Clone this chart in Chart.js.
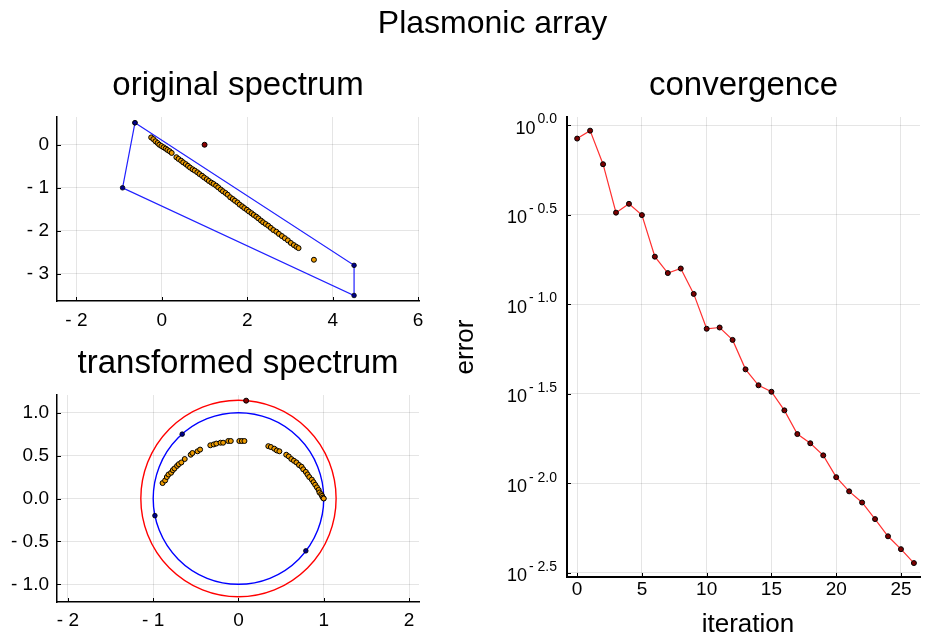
<!DOCTYPE html>
<html><head><meta charset="utf-8">
<script src="https://cdn.jsdelivr.net/npm/chart.js@4"></script>
<style>
html,body{margin:0;padding:0;background:#fff;}
#wrap{position:relative;width:925px;height:636px;overflow:hidden;background:#fff}
#wrap canvas{position:absolute;left:0;top:0}
</style></head><body>
<div id="wrap">
<canvas id="c1" width="925" height="636"></canvas>
<canvas id="c2" width="925" height="636"></canvas>
<canvas id="c3" width="925" height="636"></canvas>
</div>
<script>
// ---------- data ----------
const mainTitle = 'Plasmonic array';
const titles = ['original spectrum', 'transformed spectrum', 'convergence'];

// original spectrum: eigenvalues
const origX = [-0.25,-0.20,-0.15,-0.10,-0.06,-0.01,0.04,0.09,0.13,0.18,0.23,
  0.34,0.39,0.45,0.50,0.56,0.61,0.66,0.72,0.77,0.83,0.88,0.94,0.99,1.05,1.10,1.16,1.21,1.27,1.32,1.38,1.43,1.49,1.54,
  1.60,1.66,1.71,1.77,1.82,1.88,1.93,1.99,2.04,2.10,2.15,2.21,2.26,2.32,2.37,2.43,2.49,2.55,2.61,2.68,2.74,2.81,2.88,2.95,3.02,3.09,3.15,3.20,
  3.56];
const origY = [0.17,0.13,0.08,0.04,0.00,-0.03,-0.06,-0.09,-0.12,-0.15,-0.19,
  -0.29,-0.33,-0.37,-0.41,-0.45,-0.49,-0.53,-0.57,-0.60,-0.64,-0.68,-0.72,-0.76,-0.80,-0.84,-0.88,-0.91,-0.95,-0.99,-1.04,-1.08,-1.12,-1.16,
  -1.22,-1.26,-1.30,-1.34,-1.39,-1.43,-1.47,-1.51,-1.55,-1.59,-1.63,-1.67,-1.71,-1.76,-1.80,-1.84,-1.88,-1.93,-1.98,-2.02,-2.07,-2.12,-2.17,-2.22,-2.28,-2.33,-2.37,-2.40,
  -2.67];
const origTargetX = [1.0];
const origTargetY = [0.0];
const hullX = [-0.63, -0.92, 4.50, 4.50, -0.63];
const hullY = [0.51, -1.00, -3.50, -2.80, 0.51];
const origXTicks = [-2, 0, 2, 4, 6];
const origXLabels = ['- 2', '0', '2', '4', '6'];
const origYTicks = [0, -1, -2, -3];
const origYLabels = ['0', '- 1', '- 2', '- 3'];

// transformed spectrum
const transX = [-0.89,-0.86,-0.84,-0.82,-0.79,-0.77,-0.75,-0.72,-0.70,-0.67,-0.63,-0.56,-0.54,-0.48,-0.45,-0.33,-0.29,-0.26,-0.21,-0.18,-0.12,-0.09,0.01,0.04,0.07,
  0.35,0.38,0.42,0.45,0.48,0.56,0.59,0.62,0.65,0.68,0.71,0.74,0.76,0.79,0.81,0.83,0.86,0.88,0.90,0.92,0.94,0.95,0.97,0.98,0.99,1.00];
const transY = [0.18,0.21,0.25,0.28,0.30,0.33,0.35,0.38,0.40,0.42,0.46,0.51,0.53,0.55,0.57,0.62,0.63,0.64,0.65,0.65,0.67,0.67,0.67,0.67,0.67,
  0.61,0.60,0.58,0.56,0.55,0.51,0.49,0.46,0.44,0.42,0.39,0.37,0.34,0.31,0.28,0.25,0.22,0.19,0.16,0.13,0.10,0.07,0.05,0.03,0.01,0.00];
const transHullX = [-0.66, -0.98, 0.79, 1.00];
const transHullY = [0.75, -0.20, -0.61, 0.00];
const transTargetX = [0.09];
const transTargetY = [1.14];
const circleRadii = [1.145, 1.0];
const circleColors = ['#ff0000', '#0000ff'];
const transXTicks = [-2, -1, 0, 1, 2];
const transXLabels = ['- 2', '- 1', '0', '1', '2'];
const transYTicks = [1.0, 0.5, 0.0, -0.5, -1.0];
const transYLabels = ['1.0', '0.5', '0.0', '- 0.5', '- 1.0'];

// convergence
const iterations = [0,1,2,3,4,5,6,7,8,9,10,11,12,13,14,15,16,17,18,19,20,21,22,23,24,25,26];
const convError = [0.84,0.93,0.604,0.324,0.363,0.314,0.184,0.149,0.158,0.114,0.0728,0.0740,0.0631,0.0432,0.0352,0.0324,0.0255,0.0188,0.0167,0.0143,0.0108,0.0090,0.0078,0.0063,0.00505,0.00428,0.00358];
const convXTicks = [0, 5, 10, 15, 20, 25];
const convXLabels = ['0', '5', '10', '15', '20', '25'];
const convYTickExps = [0, -0.5, -1, -1.5, -2, -2.5];
const convYExpLabels = ['0.0', '- 0.5', '- 1.0', '- 1.5', '- 2.0', '- 2.5'];
const convXLabel = 'iteration';
const convYLabel = 'error';

// ---------- helpers ----------
const FONT = '"Liberation Sans", Arial, Helvetica, sans-serif';
Chart.defaults.font.family = FONT;
Chart.defaults.color = '#000';
const pts = (xs, ys) => xs.map((x, i) => ({x: x, y: ys[i]}));
const GRID = 'rgba(0,0,0,0.1)';

function linScale(pos, min, max, ticks, labels, fit, pad, bw) {
  return {
    type: 'linear', position: pos, min: min, max: max,
    afterBuildTicks: s => { s.ticks = ticks.map(v => ({value: v})); },
    afterFit: s => { if (pos === 'bottom') s.height = fit; else s.width = fit; },
    ticks: {callback: (v, i) => labels[i], padding: pad, color: '#000', font: {size: 19}, autoSkip: false, maxRotation: 0},
    grid: {color: GRID, lineWidth: 1, drawTicks: false},
    border: {display: true, color: '#000', width: bw}
  };
}

function decorPlugin(title, extra) {
  return {
    id: 'decor',
    beforeDatasetsDraw(chart) {
      if (extra && extra.before) extra.before(chart);
    },
    afterDraw(chart) {
      const ctx = chart.ctx, a = chart.chartArea;
      const xs = chart.scales.x, ys = chart.scales.y;
      ctx.save();
      // inward ticks
      ctx.strokeStyle = '#000'; ctx.lineWidth = 1;
      ctx.beginPath();
      xs.ticks.forEach(t => { const p = Math.round(xs.getPixelForValue(t.value)) + 0.5; ctx.moveTo(p, a.bottom); ctx.lineTo(p, a.bottom - 4); });
      ys.ticks.forEach(t => { const p = Math.round(ys.getPixelForValue(t.value)) + 0.5; ctx.moveTo(a.left, p); ctx.lineTo(a.left + 4, p); });
      ctx.stroke();
      // subplot title
      ctx.fillStyle = '#000';
      ctx.font = '33px ' + FONT;
      ctx.textAlign = 'center'; ctx.textBaseline = 'alphabetic';
      ctx.fillText(title, (a.left + a.right) / 2, a.top - 21.7);
      if (extra && extra.after) extra.after(chart, ctx, a);
      ctx.restore();
    }
  };
}

const baseOpts = (padding) => ({
  responsive: false, animation: false, devicePixelRatio: 1,
  layout: {padding: padding},
  plugins: {legend: {display: false}, tooltip: {enabled: false}, title: {display: false}},
  events: []
});

// ---------- chart 1: original spectrum ----------
const o1 = baseOpts({left: 7, right: 506, top: 117, bottom: 305});
o1.scales = {
  x: linScale('bottom', -2.455, 6.02, origXTicks, origXLabels, 30, 8, 1.5),
  y: linScale('left', -3.628, 0.644, origYTicks, origYLabels, 50, 8, 1.5)
};
new Chart(document.getElementById('c1'), {
  type: 'scatter',
  data: {datasets: [
    {label: 'target', data: pts(origTargetX, origTargetY), pointRadius: 2.5, pointBackgroundColor: '#8b0000', pointBorderColor: '#000', pointBorderWidth: 1, order: 1},
    {label: 'eigenvalues', data: pts(origX, origY), pointRadius: 2.5, pointBackgroundColor: '#eb9a00', pointBorderColor: '#000', pointBorderWidth: 1, order: 2},
    {label: 'hull', data: pts(hullX, hullY), showLine: true, borderColor: '#2020ff', borderWidth: 1.2, tension: 0, fill: false,
     pointRadius: 2.3, pointBackgroundColor: '#00008b', pointBorderColor: '#000', pointBorderWidth: 0.8, order: 3}
  ]},
  options: o1,
  plugins: [decorPlugin(titles[0])]
});

// ---------- chart 2: transformed spectrum ----------
const o2 = baseOpts({left: 7, right: 506, top: 395, bottom: 4});
o2.scales = {
  x: linScale('bottom', -2.128, 2.117, transXTicks, transXLabels, 30, 7, 1.5),
  y: linScale('left', -1.206, 1.206, transYTicks, transYLabels, 50, 8, 1.5)
};
new Chart(document.getElementById('c2'), {
  type: 'scatter',
  data: {datasets: [
    {label: 'target', data: pts(transTargetX, transTargetY), pointRadius: 2.5, pointBackgroundColor: '#8b0000', pointBorderColor: '#000', pointBorderWidth: 1, order: 1},
    {label: 'eigenvalues', data: pts(transX, transY), pointRadius: 2.5, pointBackgroundColor: '#eb9a00', pointBorderColor: '#000', pointBorderWidth: 1, order: 2},
    {label: 'hull', data: pts(transHullX, transHullY), pointRadius: 2.3, pointBackgroundColor: '#00008b', pointBorderColor: '#000', pointBorderWidth: 0.8, order: 3}
  ]},
  options: o2,
  plugins: [decorPlugin(titles[1], {
    before(chart) {
      const ctx = chart.ctx, xs = chart.scales.x, ys = chart.scales.y;
      const cx = xs.getPixelForValue(0), cy = ys.getPixelForValue(0);
      ctx.save();
      circleRadii.forEach((r, i) => {
        const rx = Math.abs(xs.getPixelForValue(r) - cx), ry = Math.abs(ys.getPixelForValue(r) - cy);
        ctx.beginPath();
        ctx.ellipse(cx, cy, rx, ry, 0, 0, Math.PI * 2);
        ctx.strokeStyle = circleColors[i]; ctx.lineWidth = 1.4;
        ctx.stroke();
      });
      ctx.restore();
    }
  })]
});

// ---------- chart 3: convergence ----------
const o3 = baseOpts({left: 507, right: 0, top: 117, bottom: 19});
const cx = linScale('bottom', -0.784, 26.47, convXTicks, convXLabels, 40, 1, 2);
const cy = {
  type: 'logarithmic', position: 'left', min: Math.pow(10, -2.524), max: Math.pow(10, 0.0447),
  afterBuildTicks: s => { s.ticks = convYTickExps.map(e => ({value: Math.pow(10, e)})); },
  afterFit: s => { s.width = 60; },
  ticks: {display: false},
  grid: {color: GRID, lineWidth: 1, drawTicks: false},
  border: {display: true, color: '#000', width: 2}
};
o3.scales = {x: cx, y: cy};
new Chart(document.getElementById('c3'), {
  type: 'scatter',
  data: {datasets: [
    {label: 'error', data: pts(iterations, convError), showLine: true, borderColor: '#ff3030', borderWidth: 1.2, tension: 0, fill: false,
     pointRadius: 2.5, pointBackgroundColor: '#7a0000', pointBorderColor: '#000', pointBorderWidth: 1}
  ]},
  options: o3,
  plugins: [decorPlugin(titles[2], {
    after(chart, ctx, a) {
      const ys = chart.scales.y;
      ctx.fillStyle = '#000';
      convYTickExps.forEach((e, i) => {
        const py = ys.getPixelForValue(Math.pow(10, e));
        ctx.textAlign = 'right'; ctx.textBaseline = 'alphabetic';
        ctx.font = '14px ' + FONT;
        const lab = convYExpLabels[i];
        const w = ctx.measureText(lab).width;
        ctx.fillText(lab, a.left - 10, py - 1.6);
        ctx.font = '18px ' + FONT;
        ctx.fillText('10', a.left - 10 - w - 2, py + 8.6);
      });
      // axis labels
      ctx.font = '26px ' + FONT;
      ctx.textAlign = 'center'; ctx.textBaseline = 'alphabetic';
      ctx.fillText(convXLabel, 748, 632);
      ctx.save();
      ctx.translate(473, (a.top + a.bottom) / 2);
      ctx.rotate(-Math.PI / 2);
      ctx.fillText(convYLabel, 0, 0);
      ctx.restore();
      // main title
      ctx.font = '32px ' + FONT;
      ctx.fillText(mainTitle, 492.5, 33.3);
    }
  })]
});
</script>
</body></html>
